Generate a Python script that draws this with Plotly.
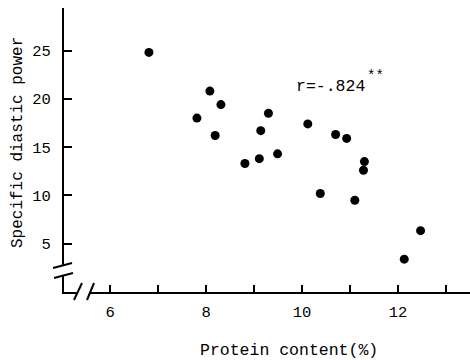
import plotly.graph_objects as go

protein = [6.81, 8.08, 8.31, 7.81, 8.19, 9.30, 9.14, 10.12, 10.70, 10.93,
           8.81, 9.11, 9.49, 11.30, 11.28, 10.38, 11.10, 12.47, 12.13]
power = [24.8, 20.8, 19.4, 18.0, 16.2, 18.5, 16.7, 17.4, 16.3, 15.9,
         13.3, 13.8, 14.3, 13.5, 12.6, 10.2, 9.5, 6.35, 3.4]

x_ticks = [6, 7, 8, 9, 10, 11, 12, 13]
x_labels = ["6", "", "8", "", "10", "", "12", ""]
y_ticks = [5, 10, 15, 20, 25]

W, H = 470, 360
L, R, T, B = 64, 0, 8, 68
PW, PH = W - L - R, H - T - B
FONT = "Liberation Mono, Courier New, monospace"


def px(x, y):
    return (x - L) / PW, (H - B - y) / PH


fig = go.Figure()
fig.add_trace(go.Scatter(
    x=protein, y=power, mode="markers",
    marker=dict(size=9, color="black", line=dict(width=0)),
    showlegend=False,
))

shapes = []
# white gaps for axis breaks
x0, y0 = px(58, 266)
x1, y1 = px(70, 276)
shapes.append(dict(type="rect", xref="paper", yref="paper", x0=x0, x1=x1, y0=y0, y1=y1,
                   fillcolor="white", line=dict(width=0), layer="above"))
x0, y0 = px(77, 288)
x1, y1 = px(90, 296)
shapes.append(dict(type="rect", xref="paper", yref="paper", x0=x0, x1=x1, y0=y0, y1=y1,
                   fillcolor="white", line=dict(width=0), layer="above"))
# break slashes
for (a, b, c, d) in [(53, 268, 72, 263), (54, 278, 73, 273), (74, 300, 82, 283), (87, 300, 94, 283)]:
    xa, ya = px(a, b)
    xb, yb = px(c, d)
    shapes.append(dict(type="line", xref="paper", yref="paper", x0=xa, y0=ya, x1=xb, y1=yb,
                       line=dict(color="black", width=2), layer="above"))

annotations = []
ax, ay = px(18, 143)
annotations.append(dict(text="Specific diastic power", xref="paper", yref="paper", x=ax, y=ay,
                        xanchor="center", yanchor="middle",
                        textangle=-90, showarrow=False, font=dict(family=FONT, size=16, color="black")))
ax, ay = px(289, 350)
annotations.append(dict(text="Protein content(%)", xref="paper", yref="paper", x=ax, y=ay,
                        xanchor="center", yanchor="middle",
                        showarrow=False, font=dict(family=FONT, size=16.5, color="black")))
ax, ay = px(294, 87)
annotations.append(dict(text="r=-.824", xref="paper", yref="paper", x=ax, y=ay,
                        xanchor="left", yanchor="middle",
                        showarrow=False, font=dict(family=FONT, size=16.5, color="black")))
ax, ay = px(365, 76)
annotations.append(dict(text="**", xref="paper", yref="paper", x=ax, y=ay,
                        xanchor="left", yanchor="middle",
                        showarrow=False, font=dict(family=FONT, size=14, color="black")))

fig.update_layout(
    width=W, height=H,
    margin=dict(l=L, r=R, t=T, b=B, pad=0),
    paper_bgcolor="white", plot_bgcolor="white",
    shapes=shapes, annotations=annotations,
    font=dict(family=FONT, size=15, color="black"),
    xaxis=dict(range=[5.04, 13.5], tickvals=x_ticks, ticktext=x_labels, ticks="inside",
               ticklen=7, tickwidth=1.5, tickcolor="black", showline=True, linecolor="black",
               linewidth=2, showgrid=False, zeroline=False, ticklabelstandoff=4,
               tickfont=dict(family=FONT, size=15.5)),
    yaxis=dict(range=[0, 29.4], tickvals=y_ticks, ticks="inside", ticklen=8, tickwidth=1.5,
               tickcolor="black", showline=True, linecolor="black", linewidth=2,
               showgrid=False, zeroline=False, ticklabelstandoff=8,
               tickfont=dict(family=FONT, size=15.5)),
)

fig.write_html("out.html")
